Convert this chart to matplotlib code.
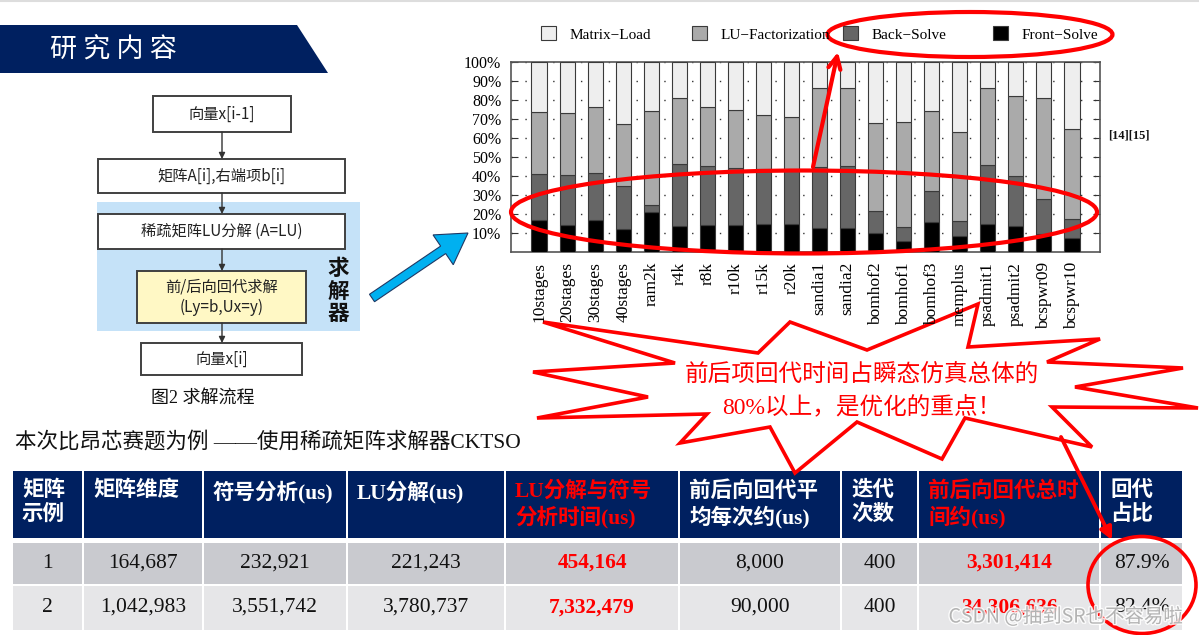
import numpy as np
import matplotlib
matplotlib.use('Agg')
import matplotlib.pyplot as plt
from matplotlib.patches import Rectangle, Polygon, Ellipse, FancyArrow
import matplotlib.patheffects as pe

# ---------------- data ----------------
matrices = ['10stages', '20stages', '30stages', '40stages', 'ram2k', 'r4k', 'r8k',
            'r10k', 'r15k', 'r20k', 'sandia1', 'sandia2', 'bomhof2', 'bomhof1',
            'bomhof3', 'memplus', 'psadmit1', 'psadmit2', 'bcspwr09', 'bcspwr10']
front_solve = [17.0, 14.5, 16.8, 12.4, 21.0, 13.8, 14.2, 14.2, 14.6, 14.6,
               13.0, 12.6, 10.0, 6.0, 15.7, 8.8, 14.9, 14.0, 9.5, 7.4]
back_solve = [24.2, 26.0, 24.7, 22.2, 3.7, 32.4, 31.1, 30.1, 28.9, 28.6,
              31.6, 32.6, 11.6, 7.3, 16.5, 7.8, 30.8, 26.1, 18.7, 9.9]
lu_factorization = [32.5, 32.5, 34.8, 32.6, 49.3, 34.6, 31.0, 30.4, 28.7, 27.9,
                    41.7, 41.1, 46.0, 55.2, 41.7, 46.4, 40.6, 42.1, 52.8, 47.2]
matrix_load = [26.3, 27.0, 23.7, 32.8, 26.0, 19.2, 23.7, 25.3, 27.8, 28.9,
               13.7, 13.7, 32.4, 31.5, 26.1, 37.0, 13.7, 17.8, 19.0, 35.5]
series_names = ['Matrix\u2212Load', 'LU\u2212Factorization', 'Back\u2212Solve', 'Front\u2212Solve']
ytick_values = [10, 20, 30, 40, 50, 60, 70, 80, 90, 100]

table_header = ['矩阵\n示例', '矩阵维度', '符号分析(us)', 'LU分解(us)', 'LU分解与符号\n分析时间(us)',
                '前后向回代平\n均每次约(us)', '迭代\n次数', '前后向回代总时\n间约(us)', '回代\n占比']
table_rows = [
    ['1', '164,687', '232,921', '221,243', '454,164', '8,000', '400', '3,301,414', '87.9%'],
    ['2', '1,042,983', '3,551,742', '3,780,737', '7,332,479', '90,000', '400', '34,306,636', '82.4%'],
]
red_columns = [4, 7]

flow_steps = ['向量x[i-1]', '矩阵A[i],右端项b[i]', '稀疏矩阵LU分解 (A=LU)',
              '前/后向回代求解\n(Ly=b,Ux=y)', '向量x[i]']

# ---------------- figure ----------------
W, H = 1199, 635
fig = plt.figure(figsize=(W / 100, H / 100), dpi=100)
CJK = ['Noto Sans CJK SC', 'DejaVu Sans']
MIX = ['Liberation Serif', 'Noto Sans CJK SC']

deco = fig.add_axes([0, 0, 1, 1], zorder=0)
deco.set_xlim(0, W)
deco.set_ylim(H, 0)
deco.axis('off')

# top faint line
deco.plot([0, W], [0.8, 0.8], color='#dddddd', lw=1.5)

# banner
deco.add_patch(Polygon([(0, 25), (297, 25), (328, 73), (0, 73)], closed=True,
                       fc='#002060', ec='none'))
deco.text(50, 50, '研 究 内 容', color='white', fontsize=19.5, family=CJK,
          ha='left', va='center')

# flowchart
deco.add_patch(Rectangle((97, 202), 263, 129, fc='#c5e2f8', ec='none'))
boxes = [(153, 96, 138, 36, 'white'), (98, 159, 247, 34, 'white'),
         (98, 214, 247, 35, 'white'), (137, 271, 169, 52, '#fff8c5'),
         (141, 343, 161, 32, 'white')]
for (bx, by, bw, bh, fc), label in zip(boxes, flow_steps):
    deco.add_patch(Rectangle((bx, by), bw, bh, fc=fc, ec='#404040', lw=1.4))
    deco.text(bx + bw / 2, by + bh / 2, label, fontsize=11, family=CJK,
              ha='center', va='center', color='#222222', linespacing=1.25)
for i in range(len(boxes) - 1):
    y0 = boxes[i][1] + boxes[i][3]
    y1 = boxes[i + 1][1]
    deco.annotate('', xy=(222, y1), xytext=(222, y0),
                  arrowprops=dict(arrowstyle='-|>', color='#333333', lw=1.0,
                                  mutation_scale=9, shrinkA=0, shrinkB=0))
for ch, yy in zip('求解器', [268, 291, 314]):
    deco.text(338, yy, ch, fontsize=15.5, family=CJK, weight='bold',
              ha='center', va='center', color='#111111')
deco.text(203, 398, '图2 求解流程', fontsize=13, family=MIX, ha='center',
          va='center', color='#111111')

# blue arrow
deco.add_patch(FancyArrow(372, 298, 96, -65, width=9, head_width=36, head_length=30,
                          length_includes_head=True, fc='#00b0f0', ec='#1f3864', lw=0.8))

# subtitle
deco.text(15, 442, '本次比昂芯赛题为例 ——使用稀疏矩阵求解器CKTSO', fontsize=15.5,
          family=MIX, ha='left', va='center', color='#111111')

# table
col_edges = [12, 83, 203, 347, 505, 679, 841, 918, 1100, 1183]
header_y = (471, 538)
row_ys = [(543, 585), (586, 631)]
row_colors = ['#c9cacf', '#e6e6e8']
for c in range(len(col_edges) - 1):
    x0, x1 = col_edges[c], col_edges[c + 1]
    deco.add_patch(Rectangle((x0 + 1, header_y[0]), x1 - x0 - 2, header_y[1] - header_y[0],
                             fc='#002060', ec='none'))
    col = '#ff0000' if c in red_columns else 'white'
    deco.text(x0 + 10, 481, table_header[c], fontsize=15.5, family=MIX, weight='bold',
              ha='left', va='top', color=col, linespacing=1.22)
    for r, (ya, yb) in enumerate(row_ys):
        deco.add_patch(Rectangle((x0 + 1, ya), x1 - x0 - 2, yb - ya - 1,
                                 fc=row_colors[r], ec='none'))
        red = c in red_columns
        deco.text((x0 + x1) / 2, (ya + yb) / 2 - 1, table_rows[r][c], fontsize=15.5,
                  family=['Liberation Serif'], weight='bold' if red else 'normal',
                  color='#ff0000' if red else '#111111', ha='center', va='center')

# starburst callout
star_pts = [(543, 322), (758, 353), (790, 322), (867, 350), (978, 304), (968, 347),
            (1100, 339), (1047, 362), (1183, 368), (1075, 387), (1198, 408), (1052, 407),
            (1092, 447), (965, 418), (942, 459), (857, 422), (795, 473), (770, 427),
            (680, 443), (707, 414), (537, 418), (648, 397), (533, 372), (675, 363)]
deco.add_patch(Polygon(star_pts, closed=True, fc='white', ec='#ff0000', lw=2.6,
                       joinstyle='miter'))
deco.text(862, 375, '前后项回代时间占瞬态仿真总体的', fontsize=17, family=MIX,
          color='#ff0000', ha='center', va='center')
deco.text(862, 407, '80%以上，是优化的重点！', fontsize=17, family=MIX,
          color='#ff0000', ha='center', va='center')

deco.text(1108, 135, '[14][15]', fontsize=9, family=['Liberation Serif'],
          ha='left', va='center', color='#111111', weight='bold')

# ---------------- stacked bar chart ----------------
left, right, top, bottom = 511, 1100, 61.7, 252.3
cax = fig.add_axes([left / W, 1 - bottom / H, (right - left) / W, (bottom - top) / H], zorder=1)
x = np.arange(1, len(matrices) + 1)
bot = np.zeros(len(matrices))
containers = {}
for vals, color, name in [(front_solve, '#000000', series_names[3]),
                          (back_solve, '#666666', series_names[2]),
                          (lu_factorization, '#aaaaaa', series_names[1]),
                          (matrix_load, '#eeeeee', series_names[0])]:
    v = np.array(vals)
    containers[name] = cax.bar(x, v, 0.54, bottom=bot, color=color, edgecolor='#3a3a3a',
                               linewidth=0.8, zorder=3)
    bot = bot + v
cax.set_xlim(0, len(matrices) + 1)
cax.set_ylim(0, 100)
cax.set_yticks(ytick_values)
cax.set_yticklabels([f'{v}%' for v in ytick_values], family='Liberation Serif', fontsize=11.5)
cax.set_xticks(x)
cax.set_xticklabels(matrices, rotation=90, family='Liberation Serif', fontsize=12.5)
cax.tick_params(axis='x', length=0, pad=7)
cax.tick_params(axis='y', direction='in', left=True, right=True, length=5,
                width=0.8, color='#333333', pad=7)
cax.yaxis.grid(True, linestyle=(0, (1, 9)), color='#333333', lw=1.0)
cax.set_axisbelow(True)
for s in cax.spines.values():
    s.set_color('#555555')
    s.set_linewidth(1.2)

# legend entries (one per column position)
legend_x = [541, 692, 843, 993]
for name, lx in zip(series_names, legend_x):
    leg = fig.legend(handles=[containers[name]], labels=[name], loc='center left',
                     bbox_to_anchor=(lx / W, 1 - 34 / H), frameon=False, borderpad=0,
                     borderaxespad=0, handlelength=1.0, handleheight=1.0,
                     handletextpad=0.85, prop={'family': 'Liberation Serif', 'size': 11})

# ---------------- red annotations overlay ----------------
ov = fig.add_axes([0, 0, 1, 1], zorder=2)
ov.set_xlim(0, W)
ov.set_ylim(H, 0)
ov.axis('off')
ov.add_patch(Ellipse((970, 34.5), 285, 45, fill=False, ec='#ff0000', lw=3))
ov.add_patch(Ellipse((804, 212), 586, 83, fill=False, ec='#ff0000', lw=3))
ov.add_patch(Ellipse((1142, 585), 108, 97, fill=False, ec='#ff0000', lw=2.6))
ov.annotate('', xy=(838, 52), xytext=(813, 167),
            arrowprops=dict(arrowstyle='->', color='#ff0000', lw=3, mutation_scale=22,
                            shrinkA=0, shrinkB=0))
ov.annotate('', xy=(1112, 540), xytext=(1061, 437),
            arrowprops=dict(arrowstyle='-|>', color='#ff0000', lw=2.8, mutation_scale=18,
                            shrinkA=0, shrinkB=0))
ov.text(1066, 617, 'CSDN @抽到SR也不容易啦', fontsize=14, family=CJK, color='#a8a8a8',
        alpha=0.85, ha='center', va='center',
        path_effects=[pe.withStroke(linewidth=2, foreground='white')])

fig.savefig('out.png', dpi=100)
